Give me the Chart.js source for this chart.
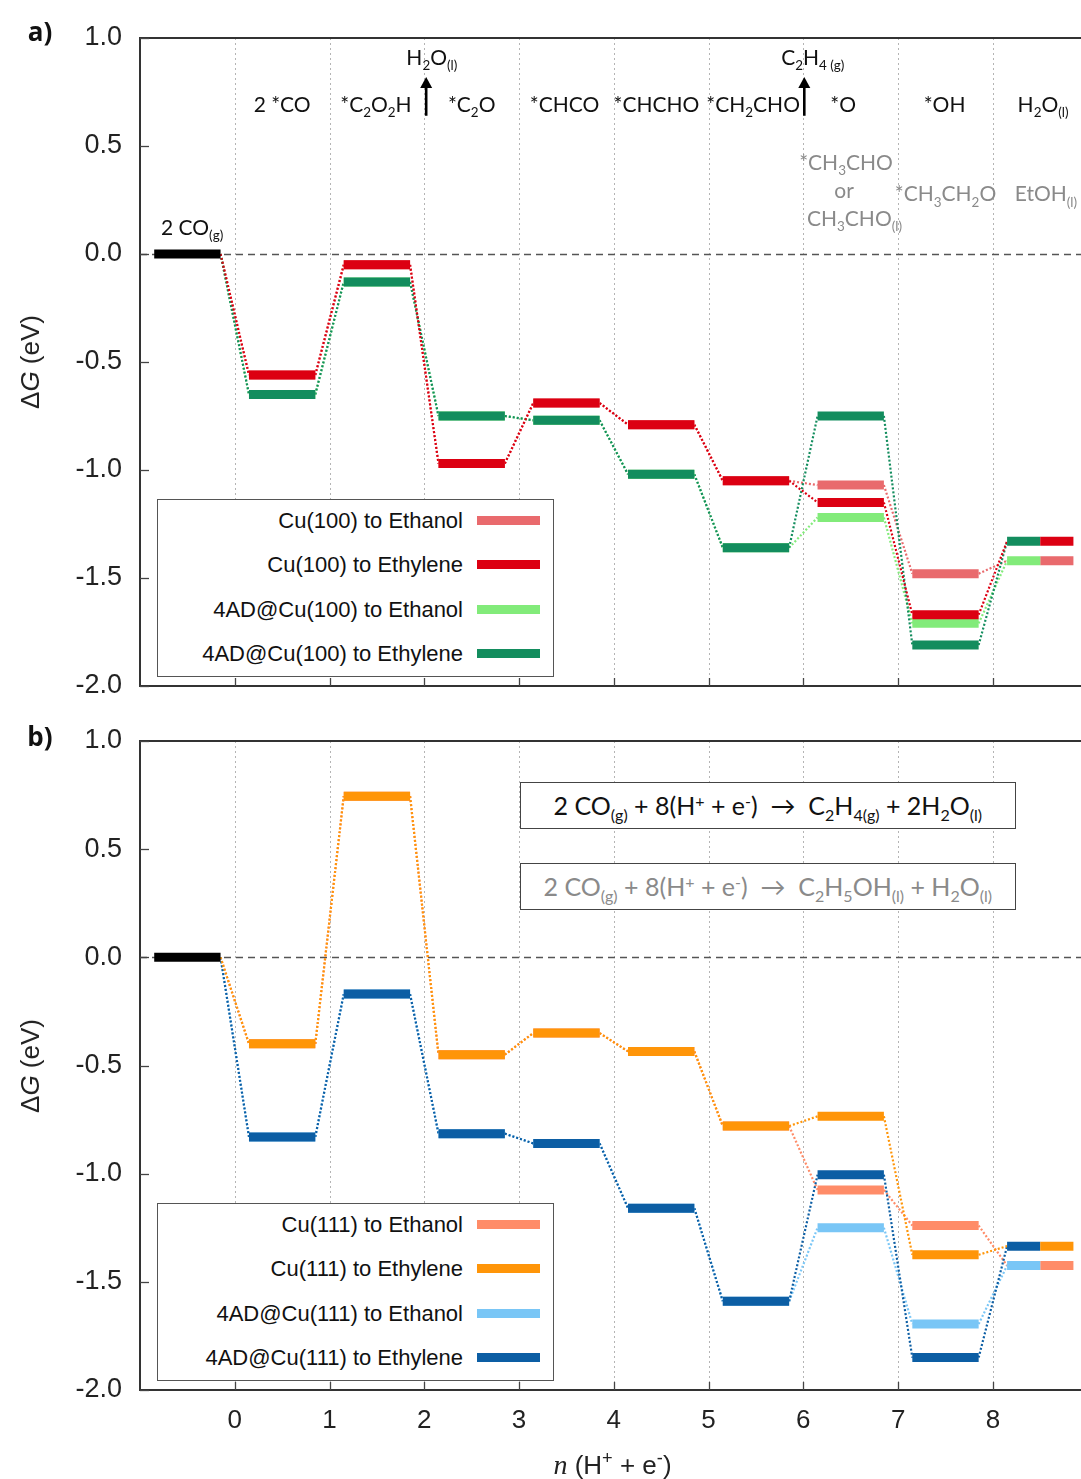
<!DOCTYPE html>
<html>
<head>
<meta charset="utf-8">
<script src="https://cdn.jsdelivr.net/npm/chart.js@4.4.1/dist/chart.umd.min.js"></script>
<style>
html,body{margin:0;padding:0;background:#fff;overflow:hidden;}
#wrap{position:relative;width:1081px;height:1479px;overflow:hidden;}
.panel{position:absolute;left:0;}
canvas{display:block;}
.lbl{position:absolute;font-family:Lato,'Open Sans',sans-serif;font-size:21px;color:#111;white-space:nowrap;transform:translate(-50%,-50%);line-height:1;}
.lbl sub,.rx sub{font-size:0.64em;vertical-align:baseline;position:relative;top:0.38em;line-height:0;}
.lbl sup,.rx sup{font-size:0.64em;vertical-align:baseline;position:relative;top:-0.5em;line-height:0;}
.gray{color:#8a8a8a;}
.tag{position:absolute;font-family:'Open Sans',Lato,sans-serif;font-weight:bold;font-size:26px;color:#111;transform:translate(-50%,-50%);line-height:1;}
.ytitle{position:absolute;font-family:'Liberation Sans',Arial,sans-serif;font-size:26px;color:#222;white-space:nowrap;transform:translate(-50%,-50%) rotate(-90deg);line-height:1;}
.xtitle{position:absolute;font-family:'Liberation Sans',Arial,sans-serif;font-size:26px;color:#222;white-space:nowrap;transform:translate(-50%,-50%);line-height:1;}
.xtitle sup{font-size:0.7em;vertical-align:baseline;position:relative;top:-0.55em;line-height:0;}
.legend{position:absolute;background:#fff;border:1.5px solid #555;box-sizing:border-box;}
.legrow{position:absolute;left:0;right:0;height:30px;}
.legtxt{position:absolute;right:90px;top:0;line-height:30px;font-family:'Liberation Sans',Arial,sans-serif;font-size:22px;color:#111;white-space:nowrap;}
.legsw{position:absolute;right:13px;top:10px;width:63px;height:9px;}
.rxbox{position:absolute;background:#fff;border:1.5px solid #444;box-sizing:border-box;display:flex;align-items:center;justify-content:center;}
.rx{font-family:Lato,'Open Sans',sans-serif;font-size:25px;white-space:nowrap;line-height:1;}
</style>
</head>
<body>
<div id="wrap">
  <div class="panel" id="pa" style="top:0;width:1081px;height:714px;"><canvas id="ca" width="1081" height="714"></canvas></div>
  <div class="panel" id="pb" style="top:714px;width:1081px;height:765px;"><canvas id="cb" width="1081" height="765"></canvas></div>
</div>
<script>
// ---------------- DATA ----------------
const stepCentres = [-0.5, 0.5, 1.5, 2.5, 3.5, 4.5, 5.5, 6.5, 7.5, 8.5];
const xTickValues = [0, 1, 2, 3, 4, 5, 6, 7, 8];
const yTickValues = [1.0, 0.5, 0.0, -0.5, -1.0, -1.5, -2.0];
const startEnergy = 0.0;

// Panel a: Cu(100) and 4AD@Cu(100), ΔG in eV at each step
const cu100Ethanol  = [0.00, -0.56, -0.05, -0.97, -0.69, -0.79, -1.05, -1.07, -1.48, -1.42];
const cu100Ethylene = [0.00, -0.56, -0.05, -0.97, -0.69, -0.79, -1.05, -1.15, -1.67, -1.33];
const ad100Ethanol  = [0.00, -0.65, -0.13, -0.75, -0.77, -1.02, -1.36, -1.22, -1.71, -1.42];
const ad100Ethylene = [0.00, -0.65, -0.13, -0.75, -0.77, -1.02, -1.36, -0.75, -1.81, -1.33];

// Panel b: Cu(111) and 4AD@Cu(111)
const cu111Ethanol  = [0.00, -0.40, 0.745, -0.45, -0.35, -0.435, -0.78, -1.075, -1.24, -1.425];
const cu111Ethylene = [0.00, -0.40, 0.745, -0.45, -0.35, -0.435, -0.78, -0.735, -1.375, -1.335];
const ad111Ethanol  = [0.00, -0.83, -0.17, -0.815, -0.86, -1.16, -1.59, -1.25, -1.695, -1.425];
const ad111Ethylene = [0.00, -0.83, -0.17, -0.815, -0.86, -1.16, -1.59, -1.005, -1.85, -1.335];

const legendNamesA = ['Cu(100) to Ethanol', 'Cu(100) to Ethylene', '4AD@Cu(100) to Ethanol', '4AD@Cu(100) to Ethylene'];
const legendNamesB = ['Cu(111) to Ethanol', 'Cu(111) to Ethylene', '4AD@Cu(111) to Ethanol', '4AD@Cu(111) to Ethylene'];

// intermediate labels (panel a)
const ethyleneLabels = ['2 *CO', '*C<sub>2</sub>O<sub>2</sub>H', '*C<sub>2</sub>O', '*CHCO', '*CHCHO', '*CH<sub>2</sub>CHO', '*O', '*OH', 'H<sub>2</sub>O<sub>(l)</sub>'];
const ethanolLabels = ['*CH<sub>3</sub>CHO', 'or', 'CH<sub>3</sub>CHO<sub>(l)</sub>', '*CH<sub>3</sub>CH<sub>2</sub>O', 'EtOH<sub>(l)</sub>'];
const releaseLabels = ['H<sub>2</sub>O<sub>(l)</sub>', 'C<sub>2</sub>H<sub>4 (g)</sub>'];
const startLabel = '2 CO<sub>(g)</sub>';
const reactionEthylene = '2 CO<sub>(g)</sub> + 8(H<sup>+</sup> + e<sup>-</sup>) &nbsp;→&nbsp; C<sub>2</sub>H<sub>4(g)</sub> + 2H<sub>2</sub>O<sub>(l)</sub>';
const reactionEthanol = '2 CO<sub>(g)</sub> + 8(H<sup>+</sup> + e<sup>-</sup>) &nbsp;→&nbsp; C<sub>2</sub>H<sub>5</sub>OH<sub>(l)</sub> + H<sub>2</sub>O<sub>(l)</sub>';

// ---------------- STYLE / LAYOUT ----------------
const BAR_HALF = 0.35;
const seriesA = [
  {name: legendNamesA[0], values: cu100Ethanol,  color: '#e96a6d', half: 'right', layer: 4},
  {name: legendNamesA[1], values: cu100Ethylene, color: '#dc0012', half: 'right', layer: 1},
  {name: legendNamesA[2], values: ad100Ethanol,  color: '#82eb7a', half: 'left',  layer: 3},
  {name: legendNamesA[3], values: ad100Ethylene, color: '#138d5e', half: 'left',  layer: 2},
];
const seriesB = [
  {name: legendNamesB[0], values: cu111Ethanol,  color: '#ff8c68', half: 'right', layer: 4},
  {name: legendNamesB[1], values: cu111Ethylene, color: '#ff9508', half: 'right', layer: 1},
  {name: legendNamesB[2], values: ad111Ethanol,  color: '#79c6f6', half: 'left',  layer: 3},
  {name: legendNamesB[3], values: ad111Ethylene, color: '#0c5ea4', half: 'left',  layer: 2},
];

function buildDatasets(series) {
  const ds = [];
  const last = stepCentres.length - 1;
  series.forEach(s => {
    const bars = [], links = [];
    for (let i = 1; i <= last; i++) {
      const c = stepCentres[i], v = s.values[i];
      let a = c - BAR_HALF, b = c + BAR_HALF;
      if (i === last) { if (s.half === 'left') b = c; else a = c; }
      bars.push({x: a, y: v}, {x: b, y: v}, {x: b, y: null});
    }
    for (let i = 0; i < last; i++) {
      const xa = stepCentres[i] + BAR_HALF, xb = stepCentres[i + 1] - BAR_HALF;
      links.push({x: xa, y: s.values[i]}, {x: xb, y: s.values[i + 1]}, {x: xb, y: null});
    }
    ds.push({label: s.name, data: bars, borderColor: s.color, borderWidth: 9, order: s.layer, spanGaps: false});
    ds.push({label: s.name + ' path', data: links, borderColor: s.color, borderWidth: 2.2, borderDash: [2, 2], order: 10 + s.layer, spanGaps: false});
  });
  ds.push({label: 'start', data: [{x: stepCentres[0] - BAR_HALF, y: startEnergy}, {x: stepCentres[0] + BAR_HALF, y: startEnergy}],
    borderColor: '#000', borderWidth: 9, order: 0});
  return ds;
}

function framePlugin(arrows) {
  return {
    id: 'frame',
    beforeDatasetsDraw(chart) {
      const {ctx, chartArea: a, scales: {x, y}} = chart;
      ctx.save();
      ctx.strokeStyle = '#b4b4b4'; ctx.lineWidth = 1; ctx.setLineDash([2, 3]);
      xTickValues.forEach(v => {
        const px = Math.round(x.getPixelForValue(v)) + 0.5;
        ctx.beginPath(); ctx.moveTo(px, a.top); ctx.lineTo(px, a.bottom); ctx.stroke();
      });
      ctx.strokeStyle = '#555'; ctx.lineWidth = 1.6; ctx.setLineDash([7, 5]);
      const y0 = Math.round(y.getPixelForValue(startEnergy)) + 0.5;
      ctx.beginPath(); ctx.moveTo(a.left, y0); ctx.lineTo(a.right, y0); ctx.stroke();
      ctx.restore();
    },
    afterDatasetsDraw(chart) {
      const {ctx, chartArea: a, scales: {x, y}} = chart;
      ctx.save();
      ctx.setLineDash([]);
      ctx.strokeStyle = '#333'; ctx.lineWidth = 2;
      ctx.beginPath(); ctx.moveTo(a.left - 1, a.top); ctx.lineTo(a.right, a.top); ctx.stroke();
      ctx.lineWidth = 1.3; ctx.strokeStyle = '#444';
      xTickValues.forEach(v => {
        const px = Math.round(x.getPixelForValue(v)) + 0.5;
        ctx.beginPath(); ctx.moveTo(px, a.bottom); ctx.lineTo(px, a.bottom - 8); ctx.stroke();
      });
      yTickValues.forEach(v => {
        const py = Math.round(y.getPixelForValue(v)) + 0.5;
        ctx.beginPath(); ctx.moveTo(a.left, py); ctx.lineTo(a.left + 9, py); ctx.stroke();
      });
      // release arrows
      ctx.strokeStyle = '#000'; ctx.fillStyle = '#000'; ctx.lineWidth = 2.6;
      arrows.forEach(ar => {
        const px = x.getPixelForValue(ar.x), p1 = y.getPixelForValue(ar.y1), p2 = y.getPixelForValue(ar.y2);
        ctx.beginPath(); ctx.moveTo(px, p1); ctx.lineTo(px, p2 + 6); ctx.stroke();
        ctx.beginPath(); ctx.moveTo(px, p2); ctx.lineTo(px - 6, p2 + 11); ctx.lineTo(px + 6, p2 + 11); ctx.closePath(); ctx.fill();
      });
      ctx.restore();
    }
  };
}

function makeChart(canvasId, series, cfg) {
  return new Chart(document.getElementById(canvasId), {
    type: 'line',
    data: {datasets: buildDatasets(series)},
    options: {
      responsive: false, animation: false, events: [],
      layout: {padding: {top: cfg.padTop, left: 0, right: 0, bottom: 0}},
      plugins: {legend: {display: false}, tooltip: {enabled: false}},
      elements: {point: {radius: 0}, line: {tension: 0, borderCapStyle: 'butt'}},
      scales: {
        x: {
          type: 'linear', min: -1, max: 8.93,
          afterBuildTicks: s => { s.ticks = xTickValues.map(v => ({value: v})); },
          afterFit: s => { s.height = cfg.xHeight; s.paddingLeft = 0; s.paddingRight = 0; s.paddingTop = 0; s.paddingBottom = 0; },
          grid: {display: false, drawTicks: false},
          border: {display: true, color: '#333', width: 2},
          ticks: {display: cfg.showX, padding: 15, autoSkip: false, maxRotation: 0, color: '#222',
                  font: {family: "'Liberation Sans', Arial, sans-serif", size: 26}}
        },
        y: {
          type: 'linear', min: -2, max: 1,
          afterBuildTicks: s => { s.ticks = yTickValues.map(v => ({value: v})); },
          afterFit: s => { s.width = 140; s.paddingLeft = 0; s.paddingRight = 0; s.paddingTop = 0; s.paddingBottom = 0; },
          grid: {display: false, drawTicks: false},
          border: {display: true, color: '#333', width: 2},
          ticks: {padding: 18, color: '#222', callback: v => Number(v).toFixed(1),
                  font: {family: "'Liberation Sans', Arial, sans-serif", size: 27}}
        }
      }
    },
    plugins: [framePlugin(cfg.arrows)]
  });
}

const chartA = makeChart('ca', seriesA, {padTop: 38, xHeight: 28, showX: false,
  arrows: [{x: 2.02, y1: 0.64, y2: 0.82}, {x: 6.01, y1: 0.64, y2: 0.82}]});
const chartB = makeChart('cb', seriesB, {padTop: 27, xHeight: 89, showX: true, arrows: []});

// ---------------- OVERLAYS ----------------
const wrap = document.getElementById('wrap');
function addDiv(cls, html, left, top, extra) {
  const d = document.createElement('div');
  d.className = cls; d.innerHTML = html;
  d.style.left = left + 'px'; d.style.top = top + 'px';
  if (extra) Object.assign(d.style, extra);
  wrap.appendChild(d);
  return d;
}
function px(chart, v) { return chart.scales.x.getPixelForValue(v); }
function py(chart, v, off) { return chart.scales.y.getPixelForValue(v) + off; }

const offA = 0, offB = 714;
// panel tags and axis titles
addDiv('tag', 'a)', 40, offA + 31);
addDiv('tag', 'b)', 40, offB + 22);
[[chartA, offA], [chartB, offB]].forEach(([c, off]) => {
  const a = c.chartArea;
  addDiv('ytitle', 'Δ<i>G</i> (eV)', 30, off + (a.top + a.bottom) / 2);
});
addDiv('xtitle', '<i style="font-family:\'Liberation Serif\',serif;font-size:28px">n</i> (H<sup>+</sup> + e<sup>-</sup>)',
  (chartB.chartArea.left + chartB.chartArea.right) / 2 + 2, offB + 751);

// panel a labels
const ethyleneLabelX = [0.5, 1.49, 2.5, 3.48, 4.45, 5.47, 6.42, 7.49, 8.53];
ethyleneLabels.forEach((t, i) => addDiv('lbl', t, px(chartA, ethyleneLabelX[i]), py(chartA, 0.70, offA)));
const ethanolLabelPos = [[6.45, 0.43], [6.43, 0.30], [6.54, 0.17], [7.5, 0.285], [8.56, 0.285]];
ethanolLabels.forEach((t, i) => addDiv('lbl gray', t, px(chartA, ethanolLabelPos[i][0]), py(chartA, ethanolLabelPos[i][1], offA)));
const releasePos = [[2.08, 0.915], [6.1, 0.915]];
releaseLabels.forEach((t, i) => addDiv('lbl', t, px(chartA, releasePos[i][0]), py(chartA, releasePos[i][1], offA)));
addDiv('lbl', startLabel, px(chartA, -0.45), py(chartA, 0.13, offA));

// legends
function legend(chart, off, series) {
  const a = chart.chartArea;
  const box = addDiv('legend', '', a.left + 17, off + a.bottom - 187, {width: '397px', height: '178px'});
  [0, 1, 2, 3].forEach((k, r) => {
    const row = document.createElement('div');
    row.className = 'legrow'; row.style.top = (6 + r * 44.3) + 'px';
    row.innerHTML = '<span class="legtxt">' + series[k].name + '</span><span class="legsw" style="background:' + series[k].color + '"></span>';
    box.appendChild(row);
  });
}
legend(chartA, offA, seriesA);
legend(chartB, offB, seriesB);

// reaction boxes (panel b)
function rxBox(html, y1, y2, color) {
  const l = px(chartB, 3.01), r = px(chartB, 8.24);
  const t = py(chartB, y1, offB), b = py(chartB, y2, offB);
  addDiv('rxbox', '<span class="rx" style="color:' + color + '">' + html + '</span>', l, t,
    {width: (r - l) + 'px', height: (b - t) + 'px'});
}
rxBox(reactionEthylene, 0.81, 0.593, '#111');
rxBox(reactionEthanol, 0.435, 0.218, '#8a8a8a');
</script>
</body>
</html>
